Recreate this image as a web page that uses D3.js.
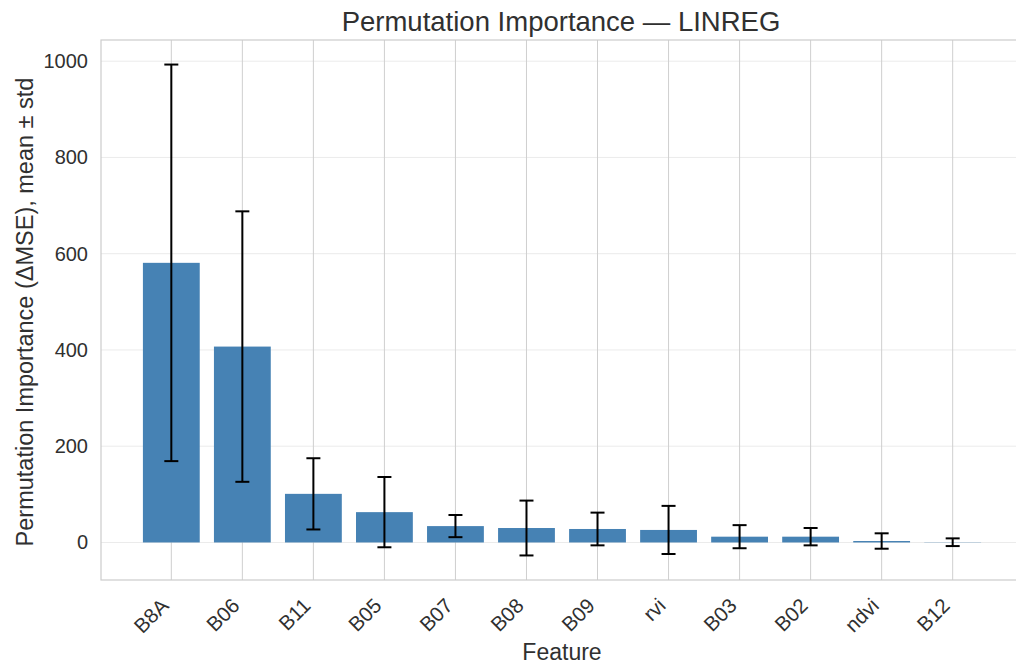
<!DOCTYPE html>
<html>
<head>
<meta charset="utf-8">
<script src="https://cdn.jsdelivr.net/npm/d3@7"></script>
<style>
  body { margin: 0; background: #fff; }
  svg { font-family: "Liberation Sans", Arial, sans-serif; }
</style>
</head>
<body>
<div id="chart"></div>
<script>
// data
var features = ["B8A", "B06", "B11", "B05", "B07", "B08", "B09", "rvi", "B03", "B02", "ndvi", "B12"];
var means = [581, 407, 101, 63, 34, 30, 28, 26, 12, 12, 3, 0.5];
var stds = [412, 281, 74, 73, 23, 57, 34, 50, 24, 18, 16, 8];
var yTicks = [0, 200, 400, 600, 800, 1000];

var width = 1016, height = 666;
var margin = {top: 40, right: -7, bottom: 86, left: 101};

var svg = d3.select("#chart")
  .append("svg")
    .attr("width", width)
    .attr("height", height);

var plotW = width - margin.left - margin.right,
    plotH = height - margin.top - margin.bottom;

var g = svg.append("g")
    .attr("transform", "translate(" + margin.left + "," + margin.top + ")");

// matplotlib style: bar positions 0..n-1, width 0.8, 5% margins
var n = features.length;
var xlo = -0.4 - 0.05 * (n - 1 + 0.8), xhi = n - 1 + 0.4 + 0.05 * (n - 1 + 0.8);
var x = d3.scaleLinear().domain([xlo, xhi]).range([0, plotW]);

var lows = means.map((m, i) => m - stds[i]);
var highs = means.map((m, i) => m + stds[i]);
var ymin = Math.min(0, d3.min(lows)), ymax = d3.max(highs);
var pad = (ymax - ymin) * 0.05;
var y = d3.scaleLinear().domain([ymin - pad, ymax + pad]).range([plotH, 0]);

// horizontal grid
g.append("g")
  .selectAll("line")
  .data(yTicks)
  .enter()
  .append("line")
    .attr("x1", 0).attr("x2", plotW)
    .attr("y1", d => y(d)).attr("y2", d => y(d))
    .style("stroke", "#ebebeb")
    .style("stroke-width", 1);

// vertical grid
g.append("g")
  .selectAll("line")
  .data(features)
  .enter()
  .append("line")
    .attr("x1", (d, i) => x(i)).attr("x2", (d, i) => x(i))
    .attr("y1", 0).attr("y2", plotH)
    .style("stroke", "#cfcfcf")
    .style("stroke-width", 1);

// bars
var bw = x(0.4) - x(-0.4);
g.append("g")
  .selectAll("rect")
  .data(means)
  .enter()
  .append("rect")
    .attr("x", (d, i) => x(i) - bw / 2)
    .attr("width", bw)
    .attr("y", d => Math.min(y(d), y(0)))
    .attr("height", d => Math.abs(y(d) - y(0)))
    .style("fill", "#4682b4");

// error bars
var err = g.append("g")
    .style("stroke", "#000")
    .style("stroke-width", 2);

err.selectAll("line.stem")
  .data(means)
  .enter()
  .append("line")
    .attr("class", "stem")
    .attr("x1", (d, i) => x(i)).attr("x2", (d, i) => x(i))
    .attr("y1", (d, i) => y(lows[i])).attr("y2", (d, i) => y(highs[i]));

var cap = 7;
["low", "high"].forEach(function(k) {
  err.selectAll("line.cap-" + k)
    .data(means)
    .enter()
    .append("line")
      .attr("class", "cap-" + k)
      .attr("x1", (d, i) => x(i) - cap).attr("x2", (d, i) => x(i) + cap)
      .attr("y1", (d, i) => y(k == "low" ? lows[i] : highs[i]))
      .attr("y2", (d, i) => y(k == "low" ? lows[i] : highs[i]));
});

// frame
g.append("rect")
    .attr("x", 0).attr("y", 0)
    .attr("width", plotW).attr("height", plotH)
    .style("fill", "none")
    .style("stroke", "#cccccc")
    .style("stroke-width", 1.2);

// y axis ticks
var yAxis = g.append("g")
    .call(d3.axisLeft(y).tickValues(yTicks).tickFormat(d3.format("d")).tickSize(0).tickPadding(13));
yAxis.select(".domain").remove();
yAxis.selectAll("text")
    .style("font-size", "20px")
    .style("fill", "#303030");

// x axis ticks
var xAxis = g.append("g")
    .attr("transform", "translate(0," + plotH + ")")
    .call(d3.axisBottom(x).tickValues(d3.range(n)).tickFormat(i => features[i]).tickSize(0));
xAxis.select(".domain").remove();
xAxis.selectAll("text")
    .style("font-size", "20.5px")
    .style("fill", "#303030")
    .attr("text-anchor", "end")
    .attr("dy", null)
    .attr("y", 0)
    .attr("transform", "translate(-2,27) rotate(-45)");

// title + labels
svg.append("text")
    .attr("x", 561)
    .attr("y", 31)
    .attr("text-anchor", "middle")
    .style("font-size", "27.5px")
    .style("fill", "#303030")
    .text("Permutation Importance — LINREG");

svg.append("text")
    .attr("x", margin.left + x(5.5))
    .attr("y", 660)
    .attr("text-anchor", "middle")
    .style("font-size", "23px")
    .style("fill", "#303030")
    .text("Feature");

svg.append("text")
    .attr("transform", "translate(33," + (margin.top + plotH / 2 + 2) + ") rotate(-90)")
    .attr("text-anchor", "middle")
    .style("font-size", "23.5px")
    .style("fill", "#303030")
    .text("Permutation Importance (ΔMSE), mean ± std");
</script>
</body>
</html>
